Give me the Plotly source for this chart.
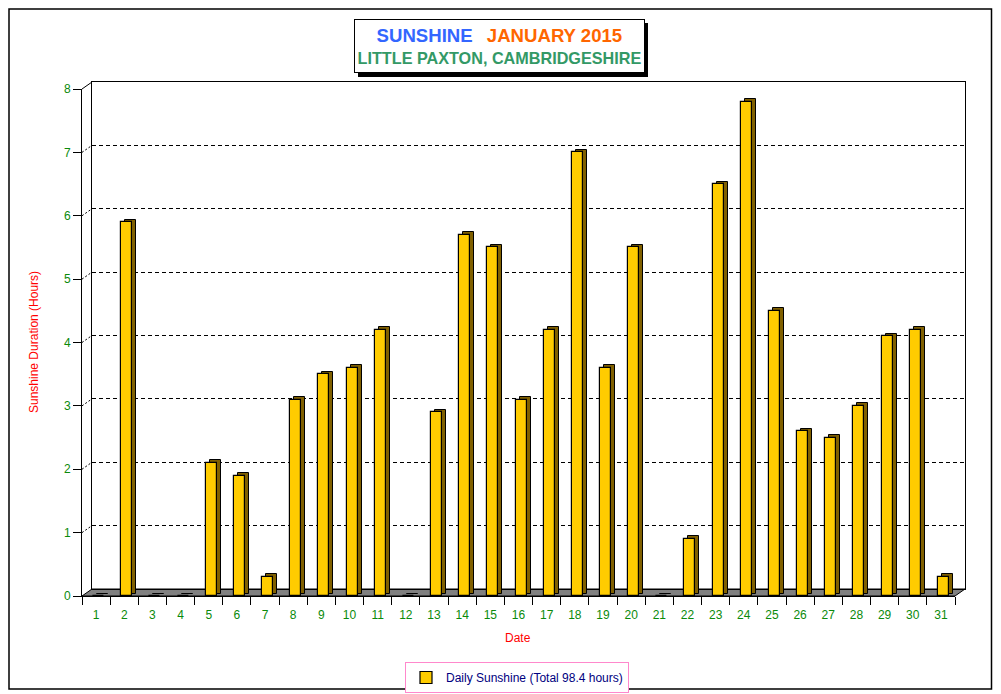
import plotly.graph_objects as go

# ---------------- data ----------------
days = [str(d) for d in range(1, 32)]
sunshine = [0.0, 5.9, 0.0, 0.0, 2.1, 1.9, 0.3, 3.1, 3.5, 3.6,
            4.2, 0.0, 2.9, 5.7, 5.5, 3.1, 4.2, 7.0, 3.6, 5.5,
            0.0, 0.9, 6.5, 7.8, 4.5, 2.6, 2.5, 3.0, 4.1, 4.2, 0.3]
y_ticks = [0, 1, 2, 3, 4, 5, 6, 7, 8]
grid_levels = [1, 2, 3, 4, 5, 6, 7]
title_word1 = "SUNSHINE"
title_word2 = "JANUARY 2015"
title_line2 = "LITTLE PAXTON, CAMBRIDGESHIRE"
legend_label = "Daily Sunshine (Total 98.4 hours)"
y_title = "Sunshine Duration (Hours)"
x_title = "Date"
y_max = 8

# ---------------- geometry ----------------
OFF = 8                 # page body margin offset
W, H = 1001 - 2 * OFF, 694 - OFF
L, R, T, B = 82 - OFF, 28, 82 - OFF, 98
PW = W - L - R
PH = H - T - B
DX, DY = 10, 7          # wall depth in px
FRONT_W = PW - DX
FRONT_H = PH - DY

def px(xp):
    """reference page pixel -> paper x"""
    return (xp - OFF - L) / PW

def py(yp):
    """reference page pixel -> paper y"""
    return (H - B - (yp - OFF)) / PH

cat_px = FRONT_W / len(days)
ux = 1.0 / cat_px
uy = y_max / FRONT_H

FONT = "Arial, Liberation Sans, sans-serif"
GREEN = "#0a8a0a"

fig = go.Figure()

# back wall (invisible anchor trace)
fig.add_trace(go.Scatter(x=[0], y=[0], xaxis="x", yaxis="y", mode="markers",
                         marker=dict(opacity=0), showlegend=False, hoverinfo="skip"))

# side/top faces of bars (3D look)
fig.add_trace(go.Bar(x=days, y=sunshine, base=2.5 * uy, xaxis="x2", yaxis="y2",
                     offset=(-3 + 4) * ux, width=11 * ux,
                     marker=dict(color="#806000", line=dict(color="black", width=1)),
                     showlegend=False, hoverinfo="skip"))
# front faces
fig.add_trace(go.Bar(x=days, y=sunshine, xaxis="x2", yaxis="y2",
                     offset=-3 * ux, width=11 * ux, name=legend_label,
                     marker=dict(color="#FFCC00", line=dict(color="black", width=1.2)),
                     showlegend=True, hoverinfo="skip"))

# page-pixel positions of the plot frame
FX0 = 82
FX1 = 82 + FRONT_W
FY0 = 596
shapes = []
# floor
floor_path = "M {} {} L {} {} L {} {} L {} {} Z".format(
    px(FX0), py(FY0), px(FX1), py(FY0),
    px(FX1 + DX), py(FY0 - DY), px(FX0 + DX), py(FY0 - DY))
shapes.append(dict(type="path", path=floor_path, xref="paper", yref="paper",
                   fillcolor="#808080", line=dict(color="black", width=1), layer="below"))
# top-left connector
shapes.append(dict(type="line", xref="paper", yref="paper",
                   x0=px(FX0), y0=py(FY0 - FRONT_H), x1=px(FX0 + DX), y1=py(FY0 - FRONT_H - DY),
                   line=dict(color="black", width=1)))
# grid connectors
for k in grid_levels:
    yf = FY0 - k * FRONT_H / y_max
    shapes.append(dict(type="line", xref="paper", yref="paper",
                       x0=px(FX0), y0=py(yf), x1=px(FX0 + DX), y1=py(yf - DY),
                       line=dict(color="black", width=1, dash="2px,2px")))
# outer border
shapes.append(dict(type="rect", xref="paper", yref="paper",
                   x0=px(9), x1=px(991.5), y0=py(9), y1=py(689),
                   line=dict(color="black", width=1.5)))
# title box shadow
shapes.append(dict(type="rect", xref="paper", yref="paper",
                   x0=px(358), x1=px(648), y0=py(23), y1=py(77),
                   fillcolor="black", line=dict(width=0)))

title_text = ("<b><span style='color:#3366FF;font-size:18.6px'>{}</span>&#160;&#160;&#160;"
              "<span style='color:#FF6600;font-size:18.6px'>{}</span><br>"
              "<span style='color:#339966;font-size:16.2px'>{}</span></b>").format(
    title_word1, title_word2, title_line2)

annotations = [
    dict(text=title_text, xref="paper", yref="paper", x=px(499.5), y=py(46),
         xanchor="center", yanchor="middle", showarrow=False,
         bgcolor="white", bordercolor="black", borderwidth=1, borderpad=1,
         width=287, height=50, font=dict(family=FONT, size=17)),
    dict(text=y_title, xref="paper", yref="paper", x=px(34), y=py(342),
         xanchor="center", yanchor="middle", textangle=-90, showarrow=False,
         font=dict(family=FONT, size=12, color="#FF0000")),
    dict(text=x_title, xref="paper", yref="paper", x=px(518), y=py(638),
         xanchor="center", yanchor="middle", showarrow=False,
         font=dict(family=FONT, size=12, color="#FF0000")),
]

fig.update_layout(
    width=W, height=H,
    margin=dict(l=L, r=R, t=T, b=B, pad=0, autoexpand=False),
    paper_bgcolor="white", plot_bgcolor="rgba(0,0,0,0)",
    bargap=0, barmode="overlay",
    font=dict(family=FONT, size=12),
    showlegend=True,
    legend=dict(xref="paper", yref="paper", x=px(517), y=py(662),
                xanchor="center", yanchor="top", bgcolor="white",
                bordercolor="#FF88CC", borderwidth=1, itemwidth=30,
                font=dict(family=FONT, size=12, color="#000080"),
                tracegroupgap=0),
    xaxis=dict(domain=[DX / PW, 1], range=[-0.5, len(days) - 0.5], anchor="y",
               showticklabels=False, ticks="", showgrid=False, zeroline=False,
               showline=True, mirror=True, linecolor="black", linewidth=1),
    yaxis=dict(domain=[DY / PH, 1], range=[0, y_max], anchor="x",
               tickvals=grid_levels, showticklabels=False, ticks="",
               showgrid=True, gridcolor="black", gridwidth=1, griddash="4px,3px",
               zeroline=False, showline=True, mirror=True, linecolor="black", linewidth=1),
    xaxis2=dict(domain=[0, FRONT_W / PW], anchor="y2", type="category",
                categoryorder="array", categoryarray=days, tickangle=0,
                tickson="boundaries", ticks="outside", ticklen=8, tickcolor="black",
                ticklabelstandoff=8,
                showline=True, linecolor="black", linewidth=1, showgrid=False,
                zeroline=False, tickfont=dict(family=FONT, size=12, color=GREEN)),
    yaxis2=dict(domain=[0, FRONT_H / PH], anchor="x2", range=[0, y_max],
                tickvals=y_ticks, ticks="outside", ticklen=8, tickcolor="black",
                showline=True, linecolor="black", linewidth=1, showgrid=False,
                zeroline=False, tickfont=dict(family=FONT, size=12, color=GREEN)),
    shapes=shapes,
    annotations=annotations,
)

fig.write_html("out.html")
